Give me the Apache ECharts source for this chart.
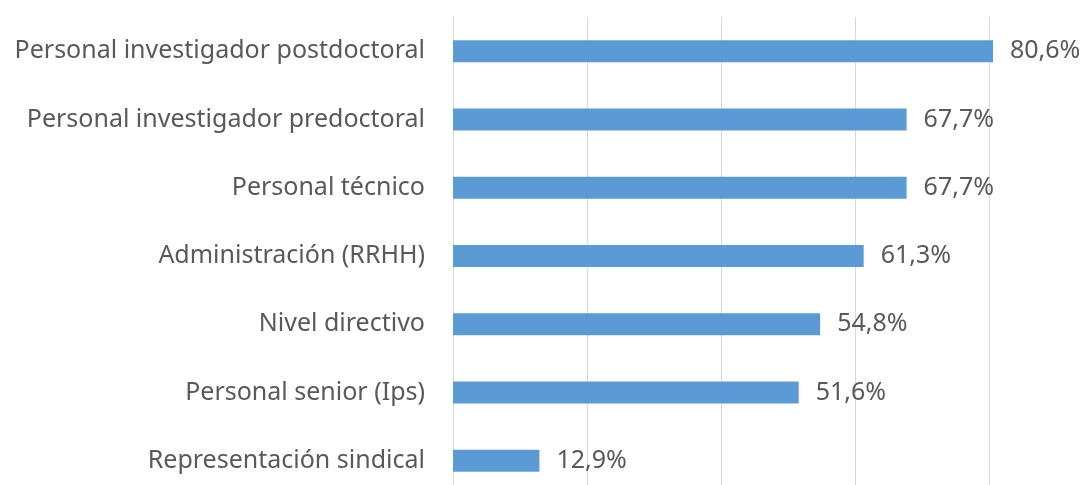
<!DOCTYPE html>
<html><head><meta charset="utf-8">
<script src="https://cdn.jsdelivr.net/npm/echarts@6/dist/echarts.min.js"></script>
<style>html,body{margin:0;padding:0;background:#fff}#c{width:1092px;height:485px}</style>
</head><body><div id="c"></div>
<script>
const categories = ["Representación sindical","Personal senior (Ips)","Nivel directivo","Administración (RRHH)","Personal técnico","Personal investigador predoctoral","Personal investigador postdoctoral"];
const values = [12.9, 51.6, 54.8, 61.3, 67.7, 67.7, 80.6];
const chart = echarts.init(document.getElementById('c'));
const font = "'Noto Sans', sans-serif";
chart.setOption({
  animation:false,
  grid:{left:453, width:670, top:17, height:478, containLabel:false, outerBoundsMode:'none'},
  xAxis:{type:'value', min:0, max:100, interval:20,
    axisLabel:{show:false}, axisLine:{show:false}, axisTick:{show:false},
    splitLine:{show:true, lineStyle:{color:'#d9d9d9', width:1}}},
  yAxis:{type:'category', data:categories,
    axisLine:{show:true, lineStyle:{color:'#d9d9d9'}}, axisTick:{show:false},
    axisLabel:{color:'#595959', fontSize:25, fontFamily:font, margin:28}},
  series:[{type:'bar', data:values, barWidth:22,
    itemStyle:{color:'#5b9bd5'},
    label:{show:true, position:'right', distance:17, color:'#595959', fontSize:25, fontFamily:font,
      formatter:p=>p.value.toFixed(1).replace('.',',')+'%'}}]
});
</script></body></html>
